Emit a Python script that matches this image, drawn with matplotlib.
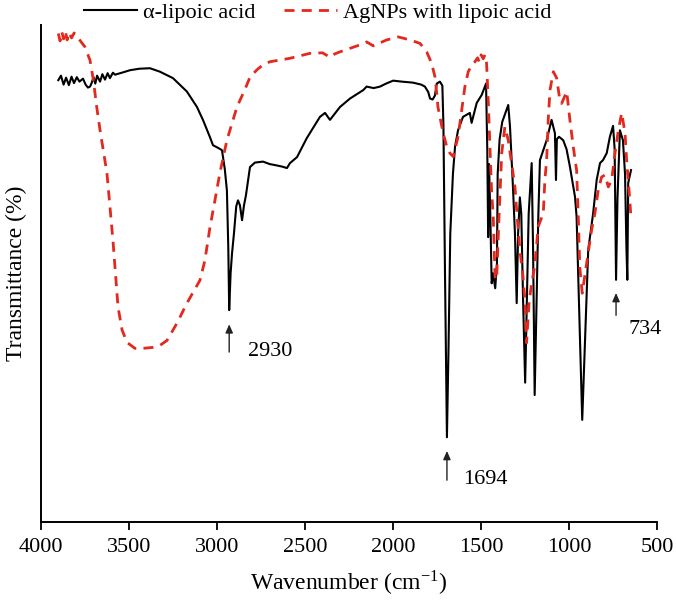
import matplotlib
matplotlib.use("Agg")
import matplotlib.pyplot as plt

plt.rcParams['font.family'] = ['Liberation Serif', 'DejaVu Serif']
plt.rcParams['mathtext.fontset'] = 'stix'

# alpha-lipoic acid (black)
wn_la = [3900, 3885, 3870, 3856, 3840, 3825, 3811, 3795, 3780, 3760, 3745, 3732, 3720, 3711,
         3700, 3690, 3680, 3663, 3650, 3635, 3620, 3607, 3590, 3578, 3539, 3493, 3440, 3380,
         3323, 3249, 3170, 3113, 3079, 3039, 3022, 2990, 2971, 2955, 2943, 2935, 2930, 2922,
         2914, 2903, 2890, 2880, 2869, 2857, 2846, 2835, 2812, 2784, 2738, 2700, 2670, 2630,
         2602, 2585, 2545, 2490, 2415, 2386, 2358, 2301, 2244, 2169, 2150, 2110, 2074, 2040,
         1999, 1950, 1887, 1840, 1819, 1800, 1790, 1775, 1762, 1752, 1734, 1720, 1714, 1705,
         1694, 1685, 1675, 1660, 1648, 1631, 1603, 1564, 1554, 1525, 1497, 1472, 1465, 1460,
         1455, 1448, 1440, 1432, 1420, 1410, 1406, 1395, 1380, 1365, 1346, 1336, 1320, 1308,
         1298, 1290, 1280, 1272, 1262, 1250, 1240, 1230, 1213, 1205, 1196, 1185, 1175, 1166,
         1147, 1128, 1100, 1081, 1075, 1070, 1058, 1034, 1015, 996, 967, 958, 940, 926, 910,
         892, 864, 844, 825, 808, 787, 769, 751, 742, 734, 726, 712, 695, 683, 675, 670, 665, 649]
t_la = [88.9, 89.8, 88.0, 89.4, 87.9, 89.6, 88.3, 89.5, 88.6, 89.2, 88.0, 87.4, 87.6, 88.3,
        89.5, 88.2, 89.8, 88.6, 90.1, 89.0, 90.3, 89.3, 90.4, 90.0, 90.4, 90.9, 91.2, 91.3,
        90.6, 89.3, 86.6, 83.5, 80.9, 77.4, 75.8, 75.2, 74.8, 71.0, 66.7, 55.0, 42.6, 50.0,
        54.0, 58.0, 63.5, 64.7, 63.7, 60.7, 63.7, 65.7, 71.4, 72.3, 72.5, 72.0, 71.8, 71.5,
        71.2, 72.2, 73.4, 77.2, 81.5, 82.3, 80.9, 83.5, 85.2, 86.9, 87.6, 87.3, 87.6, 88.2,
        88.8, 88.6, 88.4, 88.0, 87.6, 86.5, 85.2, 85.0, 85.8, 88.2, 88.6, 87.8, 80.0, 50.0,
        17.0, 35.0, 58.0, 70.0, 75.5, 78.8, 81.5, 82.3, 80.3, 84.3, 85.9, 88.2, 75.0, 57.3,
        72.0, 62.0, 48.0, 50.0, 47.0, 52.0, 70.0, 77.0, 80.5, 82.0, 83.9, 79.5, 68.0, 58.1,
        44.0, 58.0, 65.3, 62.0, 45.0, 28.0, 45.0, 62.0, 72.2, 55.0, 25.5, 45.0, 62.0, 72.8,
        74.8, 76.8, 80.9, 78.2, 68.8, 77.0, 77.5, 76.8, 75.0, 71.5, 65.4, 61.4, 38.0, 20.5, 36.6,
        54.7, 62.1, 68.8, 72.2, 72.8, 74.2, 77.5, 79.7, 75.0, 48.7, 65.0, 78.8, 76.8, 70.0, 55.0, 48.7, 68.2, 70.8]

# AgNPs with lipoic acid (red dashed)
wn_ag = [3900, 3890, 3880, 3870, 3860, 3850, 3840, 3825, 3810, 3796, 3777, 3749, 3720, 3701,
         3682, 3663, 3624, 3590, 3561, 3538, 3510, 3465, 3419, 3363, 3323, 3283, 3226, 3170,
         3096, 3068, 3039, 3011, 2983, 2943, 2886, 2841, 2812, 2772, 2738, 2699, 2585, 2471,
         2400, 2358, 2330, 2301, 2188, 2150, 2112, 2036, 1970, 1904, 1847, 1809, 1781, 1762,
         1752, 1745, 1734, 1715, 1695, 1677, 1658, 1631, 1610, 1592, 1573, 1555, 1535, 1520,
         1510, 1500, 1488, 1478, 1469, 1459, 1450, 1440, 1431, 1421, 1412, 1400, 1383, 1365,
         1346, 1327, 1308, 1298, 1280, 1264, 1251, 1242, 1228, 1213, 1196, 1176, 1147, 1138,
         1128, 1119, 1109, 1090, 1071, 1056, 1043, 1014, 996, 977, 958, 949, 940, 926, 901,
         873, 854, 835, 816, 797, 778, 759, 740, 721, 702, 683, 674, 659, 651]
t_ag = [98.3, 96.8, 98.6, 97.2, 98.8, 97.0, 98.5, 97.4, 98.4, 97.8, 96.9, 95.6, 92.9, 88.9,
        83.5, 78.8, 70.2, 56.7, 43.2, 38.6, 36.1, 34.9, 34.9, 35.1, 35.5, 36.5, 40.0, 44.0,
        48.6, 52.6, 59.3, 64.7, 70.2, 76.8, 83.5, 87.0, 89.5, 91.0, 92.0, 92.6, 93.3, 94.3,
        94.4, 93.5, 94.2, 94.6, 96.0, 96.6, 95.8, 97.0, 97.6, 97.0, 96.3, 94.6, 92.3, 89.6,
        86.3, 83.5, 81.5, 78.2, 75.5, 74.2, 73.5, 77.5, 82.9, 87.6, 90.6, 91.8, 92.6, 93.4,
        92.5, 94.0, 93.2, 94.0, 92.3, 84.3, 75.5, 66.2, 61.4, 49.3, 48.7, 60.0, 74.2, 79.5,
        76.8, 72.2, 67.4, 62.7, 54.7, 50.0, 44.6, 36.0, 44.0, 48.1, 51.3, 59.4, 62.1, 68.8,
        72.8, 80.9, 86.9, 90.6, 89.3, 85.6, 84.2, 86.6, 80.9, 75.5, 70.8, 62.0, 51.3, 46.0, 52.0,
        58.7, 62.1, 66.8, 69.4, 69.8, 67.4, 68.8, 74.2, 78.8, 82.3, 78.2, 72.8, 66.2, 62.1]

xticks = [4000, 3500, 3000, 2500, 2000, 1500, 1000, 500]
peak_labels = ["2930", "1694", "734"]
peak_wn = [2930, 1694, 734]
arrow_tip = [40.3, 14.8, 46.6]
arrow_base = [33.6, 7.8, 41.0]
label_wn = [2823, 1603, 661]
label_t = [34.2, 8.4, 38.6]

fig = plt.figure(figsize=(6.76, 6.07), dpi=100)
ax = fig.add_axes([0.0602, 0.1405, 0.9121, 0.8183])

ax.plot(wn_la, t_la, color='black', lw=1.5, label='α-lipoic acid')
ax.plot(wn_ag, t_ag, color='#e3281e', lw=2.0, dashes=(3.6, 2.6), label='AgNPs with lipoic acid')

ax.set_xlim(4000, 500)
ax.set_ylim(0, 100)
ax.set_xticks(xticks)
ax.set_xticklabels([str(v) for v in xticks])
ax.set_yticks([])
for s in ['top', 'right']:
    ax.spines[s].set_visible(False)
for s in ['left', 'bottom']:
    ax.spines[s].set_linewidth(1.4)
ax.tick_params(axis='x', direction='out', length=6, width=1.3, labelsize=16, pad=6)

ax.set_xlabel(r'Wavenumber (cm$^{\mathregular{-1}}$)', fontsize=17, labelpad=8)
ax.set_ylabel('Transmittance (%)', fontsize=17, labelpad=10)

for lab, x, tip, base, lx, ly in zip(peak_labels, peak_wn, arrow_tip, arrow_base, label_wn, label_t):
    ax.annotate('', xy=(x, tip), xytext=(x, base),
                arrowprops=dict(arrowstyle='-|>,head_length=0.5,head_width=0.22',
                                color='#222222', lw=1.0))
    ax.text(lx, ly, lab, fontsize=16, ha='left', va='center')

fig.legend(loc='center', bbox_to_anchor=(0.47, 0.979), ncol=2, frameon=False,
           fontsize=16, handlelength=2.4, columnspacing=1.3, handletextpad=0.25,
           borderaxespad=0)

fig.savefig('out.png', dpi=100)
